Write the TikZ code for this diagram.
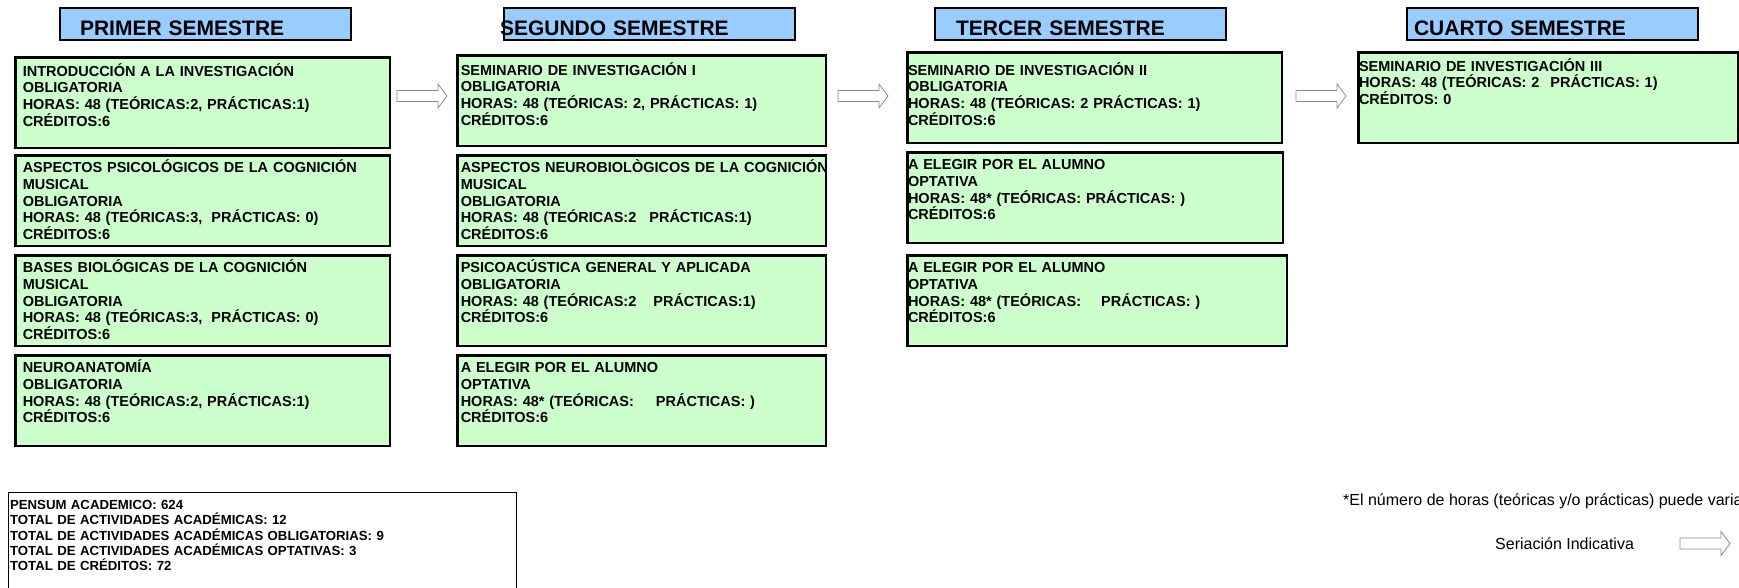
\documentclass[tikz,border=0pt]{standalone}
\usepackage{fontspec}
\setmainfont{Liberation Sans}
\usepackage{xcolor}
\definecolor{azulsem}{RGB}{153,204,255}
\definecolor{verdemat}{RGB}{204,255,204}
\usetikzlibrary{positioning}

\begin{document}
\begin{tikzpicture}[x=1pt, y=1pt,
	semestre/.style={rectangle, draw=black, fill=azulsem, line width=2pt, anchor=north west,
	                 text width=291pt, align=left, inner sep=0pt, text height=27pt, text depth=5pt,
	                 font=\fontsize{21}{21}\selectfont\bfseries},
	materia/.style={rectangle, draw=black, fill=verdemat, line width=2.5pt, align=left,
	                inner ysep=0pt, text height=17.5pt, text depth=73pt,
	                font=\fontsize{14.5}{16.7}\selectfont\bfseries},
	mat1/.style={materia, inner xsep=7.5pt, text width=359.5pt},
	mat2/.style={materia, inner xsep=3.5pt, text width=361.5pt},
	mat3/.style={materia, inner xsep=0.75pt, text width=373pt},
	resumen/.style={rectangle, draw=black, fill=white, line width=1.2pt, align=left, anchor=north west,
	                inner xsep=1.5pt, inner ysep=0pt, text width=504.8pt, text height=17pt, text depth=110pt,
	                font=\fontsize{13.2}{15.2}\selectfont\bfseries},
	nota/.style={inner sep=0pt, anchor=base west, font=\fontsize{16}{16}\selectfont},
	seriacion/.style={draw=black!45, line width=0.8pt, fill=white}
	]
\useasboundingbox (0,0) rectangle (1739,-587);
\clip (0,0) rectangle (1739,-587);

% Encabezados de semestre
\node[semestre] (h1) at (59,-7)   {\hspace*{20pt}PRIMER SEMESTRE};
\node[semestre] (h2) at (503,-7)  {\hspace*{-4pt}SEGUNDO SEMESTRE};
\node[semestre] (h3) at (934,-7)  {\hspace*{21pt}TERCER SEMESTRE};
\node[semestre] (h4) at (1406,-7) {\hspace*{7pt}CUARTO SEMESTRE};

% Primer semestre
\node[mat1, anchor=north west, text height=19pt, text depth=71.5pt] (p1) at (14,-56) {%
	INTRODUCCIÓN A LA INVESTIGACIÓN\\
	OBLIGATORIA\\
	HORAS: 48 (TEÓRICAS:2, PRÁCTICAS:1)\\
	CRÉDITOS:6};
\node[mat1, below=5pt of p1] (p2) {%
	ASPECTOS PSICOLÓGICOS DE LA COGNICIÓN\\
	MUSICAL\\
	OBLIGATORIA\\
	HORAS: 48 (TEÓRICAS:3,\hspace{9pt}PRÁCTICAS: 0)\\
	CRÉDITOS:6};
\node[mat1, below=7pt of p2] (p3) {%
	BASES BIOLÓGICAS DE LA COGNICIÓN\\
	MUSICAL\\
	OBLIGATORIA\\
	HORAS: 48 (TEÓRICAS:3,\hspace{9pt}PRÁCTICAS: 0)\\
	CRÉDITOS:6};
\node[mat1, below=7pt of p3] (p4) {%
	NEUROANATOMÍA\\
	OBLIGATORIA\\
	HORAS: 48 (TEÓRICAS:2, PRÁCTICAS:1)\\
	CRÉDITOS:6};

% Segundo semestre
\node[mat2, anchor=north west, text height=20pt, text depth=70.5pt] (s1) at (456,-54) {%
	SEMINARIO DE INVESTIGACIÓN I\\
	OBLIGATORIA\\
	HORAS: 48 (TEÓRICAS: 2, PRÁCTICAS: 1)\\
	CRÉDITOS:6};
\node[mat2, below=7pt of s1] (s2) {%
	\mbox{ASPECTOS NEUROBIOLÒGICOS DE LA COGNICIÓN}\\
	MUSICAL\\
	OBLIGATORIA\\
	HORAS: 48 (TEÓRICAS:2\hspace{13pt}PRÁCTICAS:1)\\
	CRÉDITOS:6};
\node[mat2, below=7pt of s2] (s3) {%
	PSICOACÚSTICA GENERAL Y APLICADA\\
	OBLIGATORIA\\
	HORAS: 48 (TEÓRICAS:2\hspace{17pt}PRÁCTICAS:1)\\
	CRÉDITOS:6};
\node[mat2, below=7pt of s3] (s4) {%
	A ELEGIR POR EL ALUMNO\\
	OPTATIVA\\
	HORAS: 48* (TEÓRICAS:\hspace{22pt}PRÁCTICAS: )\\
	CRÉDITOS:6};

% Tercer semestre
\node[mat3, anchor=north west, text height=23pt, text depth=67.5pt] (t1) at (906,-51) {%
	SEMINARIO DE INVESTIGACIÓN II\\
	OBLIGATORIA\\
	HORAS: 48 (TEÓRICAS: 2 PRÁCTICAS: 1)\\
	CRÉDITOS:6};
\node[mat3, text width=374pt, below=7pt of t1.south west, anchor=north west] (t2) {%
	A ELEGIR POR EL ALUMNO\\
	OPTATIVA\\
	HORAS: 48* (TEÓRICAS: PRÁCTICAS: )\\
	CRÉDITOS:6};
\node[mat3, text width=378pt, below=10pt of t2.south west, anchor=north west] (t3) {%
	A ELEGIR POR EL ALUMNO\\
	OPTATIVA\\
	HORAS: 48* (TEÓRICAS:\hspace{20pt}PRÁCTICAS: )\\
	CRÉDITOS:6};

% Cuarto semestre
\node[mat3, text width=378pt, anchor=north west, text height=19pt, text depth=71.5pt] (c1) at (1357,-51) {%
	SEMINARIO DE INVESTIGACIÓN III\\
	HORAS: 48 (TEÓRICAS: 2\hspace{11pt}PRÁCTICAS: 1)\\
	CRÉDITOS: 0};

% Seriacion indicativa
\foreach \x/\y in {397/96, 838/96, 1296/96, 1680/543.5}
	\draw[seriacion] (\x,-\y+5.5) -- ++(41,0) -- ++(0,6.5) -- ++(9,-12) -- ++(-9,-12)
		-- ++(0,6.5) -- ++(-41,0) -- cycle;

% Resumen y notas
\node[resumen] (res) at (8,-492) {%
	PENSUM ACADEMICO: 624\\
	TOTAL DE ACTIVIDADES ACADÉMICAS: 12\\
	TOTAL DE ACTIVIDADES ACADÉMICAS OBLIGATORIAS: 9\\
	TOTAL DE ACTIVIDADES ACADÉMICAS OPTATIVAS: 3\\
	TOTAL DE CRÉDITOS: 72};
\node[nota] (nt) at (1343,-505) {*El número de horas (teóricas y/o prácticas) puede varia};
\node[nota] (si) at (1495,-549) {Seriación Indicativa};

\end{tikzpicture}
\end{document}
